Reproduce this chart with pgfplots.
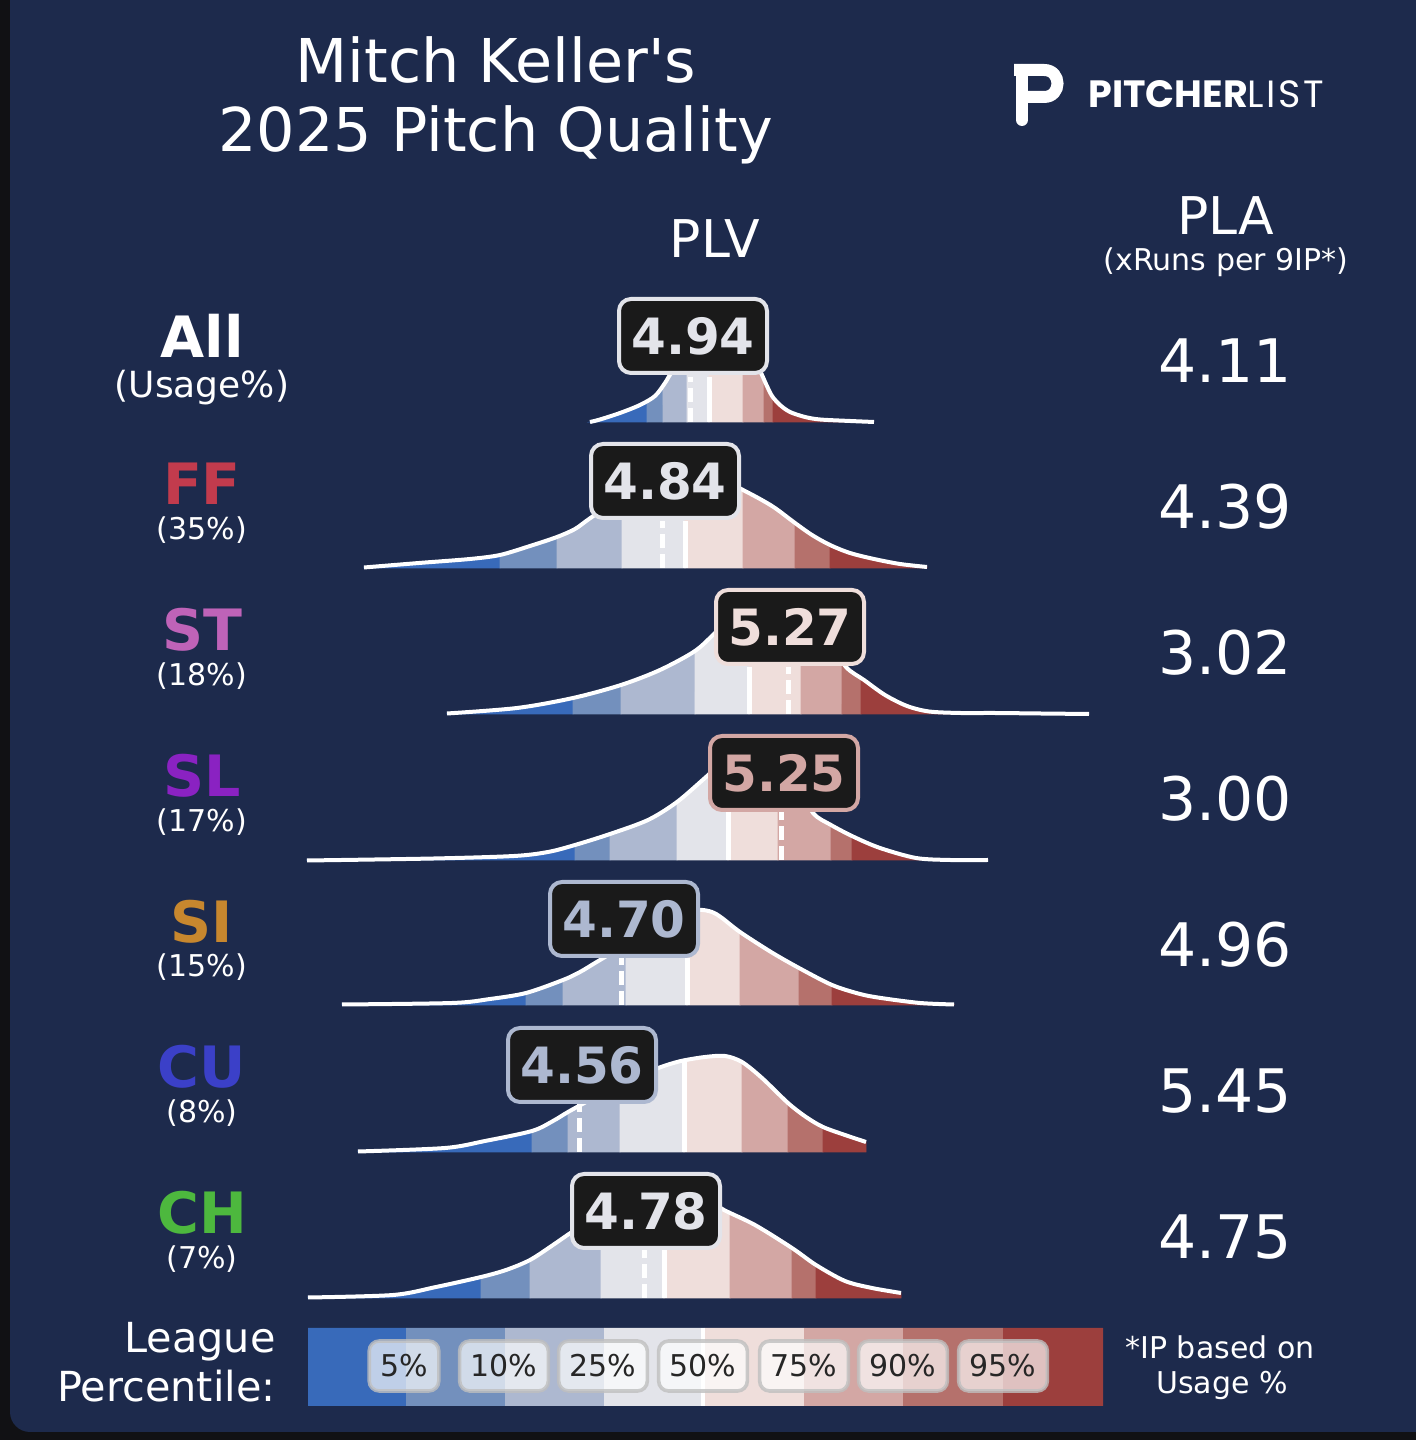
\documentclass[border=0pt]{standalone}
\usepackage{pgfplots}
\pgfplotsset{compat=1.18}
\usepgfplotslibrary{fillbetween}
\usepackage{pgfplotstable}
\usepackage{fontspec}
\setmainfont{DejaVu Sans}[Ligatures=TeXOff]
\newfontfamily\logofont{Poppins}

\tikzset{fill between/on layer=main}

\definecolor{framec}{HTML}{111114}
\definecolor{navy}{HTML}{1D2A4C}
\definecolor{bandA}{HTML}{386ABA}
\definecolor{bandB}{HTML}{7390BD}
\definecolor{bandC}{HTML}{ADB8D0}
\definecolor{bandD}{HTML}{E3E4EA}
\definecolor{bandE}{HTML}{EFDEDB}
\definecolor{bandF}{HTML}{D3A7A4}
\definecolor{bandG}{HTML}{B5716C}
\definecolor{bandH}{HTML}{9C3F3D}
\definecolor{boxfill}{HTML}{1A1A1A}
\definecolor{cFF}{HTML}{C23B4D}
\definecolor{cST}{HTML}{BF63B8}
\definecolor{cSL}{HTML}{8A22C2}
\definecolor{cSI}{HTML}{C7872E}
\definecolor{cCU}{HTML}{3B40C8}
\definecolor{cCH}{HTML}{4DB83E}

\newcommand{\fs}[1]{\fontsize{#1}{#1}\selectfont}

\tikzset{
  valbox/.style={fill=boxfill, rounded corners=6pt, line width=2pt,
     minimum width=74pt, minimum height=37pt, inner sep=0pt,
     font=\bfseries\fs{25pt}},
  legbox/.style={fill=white, fill opacity=0.68, text opacity=1,
     draw=gray!50, draw opacity=0.8, line width=1.8pt, rounded corners=5pt,
     minimum height=25pt, inner xsep=5.5pt, inner ysep=0pt,
     text=black!85, font=\fs{15pt}}
}

% density curves: x (px), y (px, screen coordinates)
\pgfplotstableread{
x y
590 422
600 419.5
620 413
640 405
655 396
665 383
672 372
685 360
700 353
720 350
740 353
752 360
760 371
766 384
772 396
780 405
790 412
805 417
820 419.5
850 421
874 422
}\curA
\pgfplotstableread{
x y
364 567.5
419 563
470 559
500 555
530 546
557 537
575 529
589 519
610 505
640 489
670 479
700 476
725 481
743 490
760 499
775 508
795 523
812 535
830 545
850 553
874 559
900 564
927 567
}\curB
\pgfplotstableread{
x y
447 713.5
517 708
573 698
621 685
660 670
695 651
716 632
735 614
755 603
775 603
800 614
825 637
846 667
864 680
885 695
907 706
929 711.5
960 713
994 713
1040 713.5
1089 714
}\curC
\pgfplotstableread{
x y
307 860.5
434 858.5
514 856
548 852
575 845
610 834
648 820
677 802
706 777
725 760
745 749
765 749
785 762
800 785
813 813
831 825
854 837
880 848
916 858
950 860
988 860
}\curD
\pgfplotstableread{
x y
342 1004.5
452 1003
490 999
526 993
563 980
580 972
595 963
620 948
650 930
675 916
698 910
712 912
722 918
740 932
771 952
799 968
832 985
860 994
881 998
920 1003
954 1004.5
}\curE
\pgfplotstableread{
x y
358 1151.5
445 1148
485 1141
532 1131
553 1121
568 1112
590 1100
615 1088
640 1076
661 1067
681 1061
705 1057
725 1056
742 1062
762 1078
788 1103
806 1117
823 1127
845 1135
866 1142
}\curF
\pgfplotstableread{
x y
308 1297.5
393 1295
436 1287
481 1277
506 1270
530 1260
553 1245
572 1232
600 1215
630 1201
660 1193
690 1193
710 1201
724 1210
755 1225
792 1248
816 1265
845 1281
872 1288
901 1293
}\curG

\newcommand{\bandsL}[6]{%
 \addplot[fill=bandA, draw=bandA, line width=0.4pt] fill between[of=c#1 and b#1, soft clip={domain=#2:#3}];
 \addplot[fill=bandB, draw=bandB, line width=0.4pt] fill between[of=c#1 and b#1, soft clip={domain=#3:#4}];
 \addplot[fill=bandC, draw=bandC, line width=0.4pt] fill between[of=c#1 and b#1, soft clip={domain=#4:#5}];
 \addplot[fill=bandD, draw=bandD, line width=0.4pt] fill between[of=c#1 and b#1, soft clip={domain=#5:#6}];
}
\newcommand{\bandsR}[6]{%
 \addplot[fill=bandE, draw=bandE, line width=0.4pt] fill between[of=c#1 and b#1, soft clip={domain=#2:#3}];
 \addplot[fill=bandF, draw=bandF, line width=0.4pt] fill between[of=c#1 and b#1, soft clip={domain=#3:#4}];
 \addplot[fill=bandG, draw=bandG, line width=0.4pt] fill between[of=c#1 and b#1, soft clip={domain=#4:#5}];
 \addplot[fill=bandH, draw=bandH, line width=0.4pt] fill between[of=c#1 and b#1, soft clip={domain=#5:#6}];
}
\newcommand{\legrect}[3]{%
 \addplot[fill=#1, draw=none] coordinates {(#2,1328) (#3,1328) (#3,1406) (#2,1406) (#2,1328)};
}

\begin{document}
\begin{tikzpicture}
\fill[framec] (0,0) rectangle (708pt,720pt);
\fill[navy] (708pt,720pt) -- (5pt,720pt) [rounded corners=10pt] -- (5pt,4pt) [sharp corners] -- (708pt,4pt) -- cycle;
\begin{axis}[at={(0,0)}, anchor=south west, scale only axis,
  width=708pt, height=720pt, xmin=0, xmax=1416, ymin=0, ymax=1440,
  y dir=reverse, hide axis, clip=false]

% ---- curves (invisible, linear, for filling) and baselines
\addplot[name path=cA, draw=none] table {\curA};
\addplot[name path=bA, draw=none] coordinates {(590,422) (874,422)};
\addplot[name path=cB, draw=none] table {\curB};
\addplot[name path=bB, draw=none] coordinates {(364,568) (927,568)};
\addplot[name path=cC, draw=none] table {\curC};
\addplot[name path=bC, draw=none] coordinates {(447,714) (1089,714)};
\addplot[name path=cD, draw=none] table {\curD};
\addplot[name path=bD, draw=none] coordinates {(307,860) (988,860)};
\addplot[name path=cE, draw=none] table {\curE};
\addplot[name path=bE, draw=none] coordinates {(342,1005) (954,1005)};
\addplot[name path=cF, draw=none] table {\curF};
\addplot[name path=bF, draw=none] coordinates {(358,1152) (866,1152)};
\addplot[name path=cG, draw=none] table {\curG};
\addplot[name path=bG, draw=none] coordinates {(308,1298) (901,1298)};

% ---- percentile bands
\bandsL{A}{590}{647}{663}{687}{709}
\bandsR{A}{709}{743}{764}{773}{874}
\bandsL{B}{364}{500}{557}{622}{685}
\bandsR{B}{685}{743}{795}{830}{927}
\bandsL{C}{447}{573}{621}{695}{749}
\bandsR{C}{749}{801}{842}{861}{1089}
\bandsL{D}{307}{575}{610}{677}{728}
\bandsR{D}{728}{778}{831}{852}{988}
\bandsL{E}{342}{526}{563}{626}{687}
\bandsR{E}{687}{740}{799}{832}{954}
\bandsL{F}{358}{532}{568}{620}{684}
\bandsR{F}{684}{742}{788}{823}{866}
\bandsL{G}{308}{481}{530}{601}{664}
\bandsR{G}{664}{730}{792}{816}{901}

% ---- median lines (solid) and pitcher value lines (dashed)
\addplot[white, line width=2.5pt] coordinates {(709,422) (709,377)};
\addplot[white, line width=2.5pt] coordinates {(685,568) (685,521)};
\addplot[white, line width=2.5pt] coordinates {(749,714) (749,667)};
\addplot[white, line width=2.5pt] coordinates {(728,860) (728,812)};
\addplot[white, line width=2.5pt] coordinates {(687,1005) (687,958)};
\addplot[white, line width=2.5pt] coordinates {(684,1152) (684,1062)};
\addplot[white, line width=2.5pt] coordinates {(664,1298) (664,1250)};

\addplot[white, line width=2.5pt, dash pattern=on 7pt off 3pt] coordinates {(690,422) (690,377)};
\addplot[white, line width=2.5pt, dash pattern=on 7pt off 3pt] coordinates {(662,568) (662,521)};
\addplot[white, line width=2.5pt, dash pattern=on 7pt off 3pt] coordinates {(788,714) (788,667)};
\addplot[white, line width=2.5pt, dash pattern=on 7pt off 3pt] coordinates {(781,860) (781,812)};
\addplot[white, line width=2.5pt, dash pattern=on 7pt off 3pt] coordinates {(621,1005) (621,958)};
\addplot[white, line width=2.5pt, dash pattern=on 7pt off 3pt] coordinates {(579,1152) (579,1104)};
\addplot[white, line width=2.5pt, dash pattern=on 7pt off 3pt] coordinates {(644,1298) (644,1250)};

% ---- white density outlines
\addplot[white, line width=2pt, smooth] table {\curA};
\addplot[white, line width=2pt, smooth] table {\curB};
\addplot[white, line width=2pt, smooth] table {\curC};
\addplot[white, line width=2pt, smooth] table {\curD};
\addplot[white, line width=2pt, smooth] table {\curE};
\addplot[white, line width=2pt, smooth] table {\curF};
\addplot[white, line width=2pt, smooth] table {\curG};

% ---- PLV value boxes
\node[valbox, draw=bandD, text=bandD] at (axis cs:693,336) {4.94};
\node[valbox, draw=bandD, text=bandD] at (axis cs:665,481) {4.84};
\node[valbox, draw=bandE, text=bandE] at (axis cs:790,627) {5.27};
\node[valbox, draw=bandF, text=bandF] at (axis cs:784,773) {5.25};
\node[valbox, draw=bandC, text=bandC] at (axis cs:624,919) {4.70};
\node[valbox, draw=bandC, text=bandC] at (axis cs:582,1065) {4.56};
\node[valbox, draw=bandD, text=bandD] at (axis cs:646,1211) {4.78};

% ---- legend bar
\legrect{bandA}{308}{406}
\legrect{bandB}{406}{505}
\legrect{bandC}{505}{604}
\legrect{bandD}{604}{704}
\legrect{bandE}{704}{804}
\legrect{bandF}{804}{903}
\legrect{bandG}{903}{1003}
\legrect{bandH}{1003}{1103}
\addplot[white, line width=2pt] coordinates {(703,1328) (703,1406)};

\node[legbox] at (axis cs:404,1366) {5\%};
\node[legbox] at (axis cs:504,1366) {10\%};
\node[legbox] at (axis cs:603,1366) {25\%};
\node[legbox] at (axis cs:703,1366) {50\%};
\node[legbox] at (axis cs:804,1366) {75\%};
\node[legbox] at (axis cs:903,1366) {90\%};
\node[legbox] at (axis cs:1003,1366) {95\%};

\node[anchor=base east, text=white, font=\fs{20.7pt}, inner sep=0pt] at (axis cs:276,1353) {League};
\node[anchor=base east, text=white, font=\fs{20.7pt}, inner sep=0pt] at (axis cs:276,1401) {Percentile:};
\node[anchor=base, text=white, font=\fs{15pt}, inner sep=0pt] at (axis cs:1220,1359) {*IP based on};
\node[anchor=base, text=white, font=\fs{15pt}, inner sep=0pt] at (axis cs:1222,1393) {Usage \%};

% ---- titles
\node[anchor=base, text=white, font=\fs{30.2pt}, inner sep=0pt] at (axis cs:496,83) {Mitch Keller's};
\node[anchor=base, text=white, font=\fs{30.2pt}, inner sep=0pt] at (axis cs:496,152) {2025 Pitch Quality};
\node[anchor=base, text=white, font=\fs{26pt}, inner sep=0pt] at (axis cs:715,258) {PLV};
\node[anchor=base, text=white, font=\fs{26pt}, inner sep=0pt] at (axis cs:1226,235) {PLA};
\node[anchor=base, text=white, font=\fs{15pt}, inner sep=0pt] at (axis cs:1226,271) {(xRuns per 9IP*)};

% ---- logo
\draw[white, line width=6pt, line cap=round] (axis cs:1022,70) -- (axis cs:1022,120);
\draw[white, line width=6pt] (axis cs:1014,70) -- (axis cs:1044,70) .. controls (axis cs:1062,70) and (axis cs:1062,97) .. (axis cs:1044,97) -- (axis cs:1026,97);
\node[anchor=base west, text=white, inner sep=0pt] at (axis cs:1088,108) {\logofont\fs{19pt}\bfseries PITCHER\mdseries\addfontfeature{LetterSpace=7}LIST};

% ---- row labels
\node[anchor=base, text=white, font=\bfseries\fs{28.5pt}, inner sep=0pt] at (axis cs:202,358) {All};
\node[anchor=base, text=white, font=\fs{18pt}, inner sep=0pt] at (axis cs:202,398) {(Usage\%)};
\node[anchor=base, text=cFF, font=\bfseries\fs{28.5pt}, inner sep=0pt] at (axis cs:202,505) {FF};
\node[anchor=base, text=white, font=\fs{15pt}, inner sep=0pt] at (axis cs:202,540) {(35\%)};
\node[anchor=base, text=cST, font=\bfseries\fs{28.5pt}, inner sep=0pt] at (axis cs:202,651) {ST};
\node[anchor=base, text=white, font=\fs{15pt}, inner sep=0pt] at (axis cs:202,686) {(18\%)};
\node[anchor=base, text=cSL, font=\bfseries\fs{28.5pt}, inner sep=0pt] at (axis cs:202,797) {SL};
\node[anchor=base, text=white, font=\fs{15pt}, inner sep=0pt] at (axis cs:202,832) {(17\%)};
\node[anchor=base, text=cSI, font=\bfseries\fs{28.5pt}, inner sep=0pt] at (axis cs:202,943) {SI};
\node[anchor=base, text=white, font=\fs{15pt}, inner sep=0pt] at (axis cs:202,977) {(15\%)};
\node[anchor=base, text=cCU, font=\bfseries\fs{28.5pt}, inner sep=0pt] at (axis cs:202,1088) {CU};
\node[anchor=base, text=white, font=\fs{15pt}, inner sep=0pt] at (axis cs:202,1123) {(8\%)};
\node[anchor=base, text=cCH, font=\bfseries\fs{28.5pt}, inner sep=0pt] at (axis cs:202,1234) {CH};
\node[anchor=base, text=white, font=\fs{15pt}, inner sep=0pt] at (axis cs:202,1269) {(7\%)};

% ---- PLA values
\node[anchor=base, text=white, font=\fs{30pt}, inner sep=0pt] at (axis cs:1225,383) {4.11};
\node[anchor=base, text=white, font=\fs{30pt}, inner sep=0pt] at (axis cs:1225,529) {4.39};
\node[anchor=base, text=white, font=\fs{30pt}, inner sep=0pt] at (axis cs:1225,675) {3.02};
\node[anchor=base, text=white, font=\fs{30pt}, inner sep=0pt] at (axis cs:1225,821) {3.00};
\node[anchor=base, text=white, font=\fs{30pt}, inner sep=0pt] at (axis cs:1225,967) {4.96};
\node[anchor=base, text=white, font=\fs{30pt}, inner sep=0pt] at (axis cs:1225,1113) {5.45};
\node[anchor=base, text=white, font=\fs{30pt}, inner sep=0pt] at (axis cs:1225,1259) {4.75};
\end{axis}
\end{tikzpicture}
\end{document}
